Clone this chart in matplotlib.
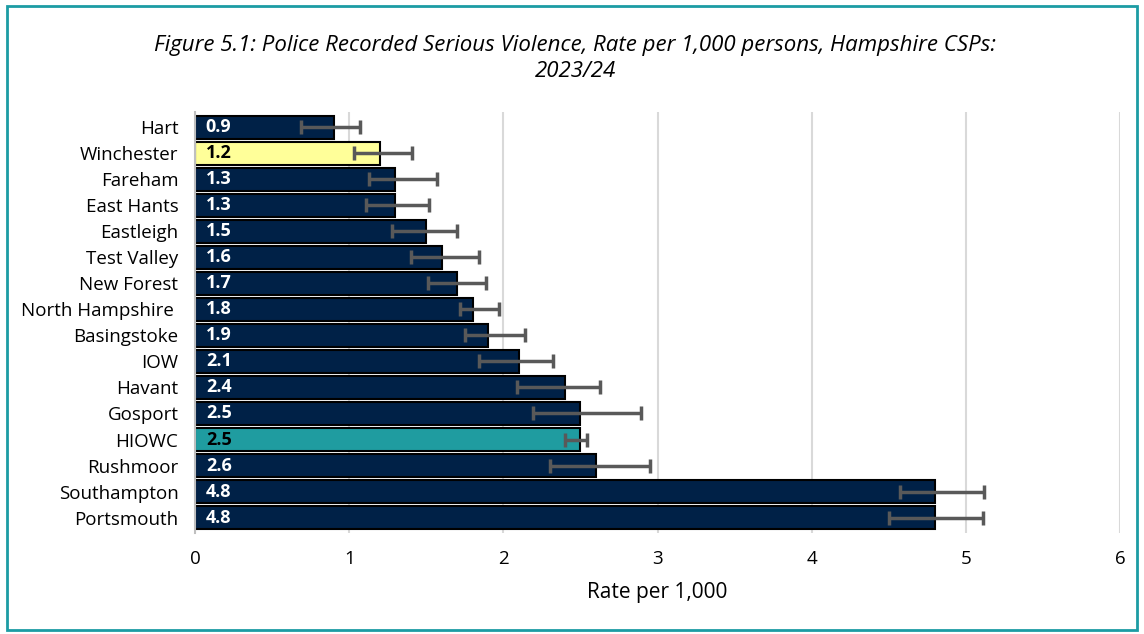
import numpy as np
import matplotlib
matplotlib.use("Agg")
import matplotlib.pyplot as plt
from matplotlib.patches import Rectangle

plt.rcParams['font.family'] = ['Open Sans', 'DejaVu Sans']

# data, top to bottom
areas = ['Hart', 'Winchester', 'Fareham', 'East Hants', 'Eastleigh', 'Test Valley',
         'New Forest', 'North Hampshire ', 'Basingstoke', 'IOW', 'Havant', 'Gosport',
         'HIOWC', 'Rushmoor', 'Southampton', 'Portsmouth']
rates = [0.9, 1.2, 1.3, 1.3, 1.5, 1.6, 1.7, 1.8, 1.9, 2.1, 2.4, 2.5, 2.5, 2.6, 4.8, 4.8]
ci_low = [0.69, 1.03, 1.13, 1.11, 1.28, 1.40, 1.51, 1.72, 1.75, 1.84, 2.09, 2.19,
          2.40, 2.30, 4.57, 4.50]
ci_high = [1.07, 1.41, 1.57, 1.52, 1.70, 1.84, 1.89, 1.97, 2.14, 2.32, 2.63, 2.89,
           2.54, 2.95, 5.12, 5.11]

navy = '#002147'
colors = [navy] * len(areas)
colors[1] = '#FFFF99'   # Winchester
colors[12] = '#1F9CA0'  # HIOWC
label_colors = ['white'] * len(areas)
label_colors[1] = 'black'
label_colors[12] = 'black'

fig = plt.figure(figsize=(11.44, 6.34), dpi=100)
ax = fig.add_axes([0.1705, 0.159, 0.8085, 0.665])

y = np.arange(len(areas))
rates = np.array(rates)
xerr = [rates - np.array(ci_low), np.array(ci_high) - rates]

ax.barh(y, rates, height=0.87, color=colors, edgecolor='black', linewidth=1.5, zorder=2)
ax.errorbar(rates, y, xerr=xerr, fmt='none', ecolor='#595959', elinewidth=2.5,
            capsize=5, capthick=2.5, zorder=3)

for yi, v, c in zip(y, rates, label_colors):
    ax.text(0.07, yi, f'{v:.1f}', color=c, fontsize=13, fontweight='bold',
            va='center', ha='left', zorder=4)

ax.set_xlim(0, 6)
ax.set_ylim(len(areas) - 0.4, -0.6)
ax.set_yticks(y)
ax.set_yticklabels(areas, fontsize=13.5)
ax.set_xticks(range(7))
ax.tick_params(axis='x', labelsize=13.5, length=0, pad=12)
ax.tick_params(axis='y', length=0, pad=12)
ax.grid(axis='x', color='#d9d9d9', linewidth=1.5, zorder=0)
ax.set_axisbelow(True)
for s in ['top', 'right', 'bottom']:
    ax.spines[s].set_visible(False)
ax.spines['left'].set_color('#bfbfbf')
ax.spines['left'].set_linewidth(1.5)
ax.set_xlabel('Rate per 1,000', fontsize=15, labelpad=10)

fig.text(0.503, 0.908, 'Figure 5.1: Police Recorded Serious Violence, Rate per 1,000 persons, Hampshire CSPs:\n2023/24',
         ha='center', va='center', fontsize=16, style='italic', linespacing=1.3)

# teal frame around the chart
fig.patches.append(Rectangle((0.006, 0.006), 0.988, 0.984, transform=fig.transFigure,
                             fill=False, edgecolor='#1C9CA4', linewidth=2))

fig.savefig('out.png', dpi=100)
